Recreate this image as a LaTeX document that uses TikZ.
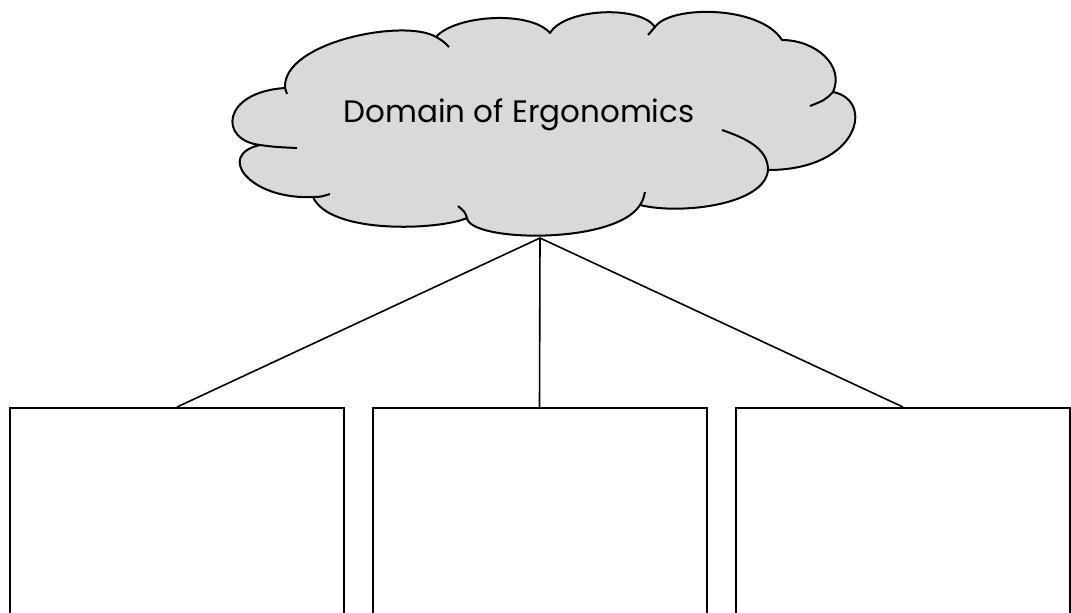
\documentclass[tikz,border=0pt]{standalone}
\usepackage{fontspec}
\setmainfont{Poppins}
\usetikzlibrary{positioning}
\tikzset{
  domainbox/.style={draw=black, line width=1pt, minimum width=167pt, minimum height=150pt, anchor=north, inner sep=0pt},
  cloudline/.style={draw=black, line width=1pt, line join=round},
  branch/.style={draw=black, line width=0.8pt},
}

\begin{document}
\begin{tikzpicture}[x=0.5pt, y=-0.5pt]
\clip (0,0) rectangle (1071,612);

% cloud outline
\filldraw [cloudline, fill=black!15] (260,145)
  .. controls (218,140) and (222,92) .. (285,88)
  .. controls (282,42) and (405,18) .. (436,37)
  .. controls (455,15) and (530,10) .. (550,33)
  .. controls (565,8) and (640,5) .. (655,27)
  .. controls (670,5) and (760,5) .. (782,40)
  .. controls (815,40) and (845,65) .. (833,92)
  .. controls (875,100) and (860,170) .. (768,170)
  .. controls (765,205) and (680,215) .. (640,205)
  .. controls (615,245) and (470,242) .. (467,218)
  .. controls (440,230) and (330,235) .. (313,197)
  .. controls (250,200) and (215,155) .. cycle;

% inner arcs
\draw [cloudline] (285,88) -- (287,94);
\draw [cloudline] (436,37) .. controls (443,41) .. (449,47);
\draw [cloudline] (655,27) .. controls (651,31) .. (648,35);
\draw [cloudline] (833,92) .. controls (825,100) .. (810,106);
\draw [cloudline] (768,170) .. controls (768,148) and (745,138) .. (722,130);
\draw [cloudline] (640,205) .. controls (643,200) .. (645,192);
\draw [cloudline] (467,218) .. controls (465,212) .. (458,206);
\draw [cloudline] (313,197) .. controls (320,197) .. (330,194);
\draw [cloudline] (260,145) .. controls (275,147) .. (297,148);

\node [anchor=base, inner sep=0pt, font=\fontsize{15.5}{18}\selectfont] (title) at (519,122) {Domain of Ergonomics};
\coordinate (cloudtip) at (540,238);

% boxes
\node [domainbox] (boxa) at (177,407) {};
\node [domainbox] (boxb) at (539.5,407) {};
\node [domainbox] (boxc) at (903,407) {};

\draw [branch] (cloudtip) -- (boxa.north);
\draw [branch] (cloudtip) -- (boxb.north);
\draw [branch] (cloudtip) -- (boxc.north);

\end{tikzpicture}
\end{document}
